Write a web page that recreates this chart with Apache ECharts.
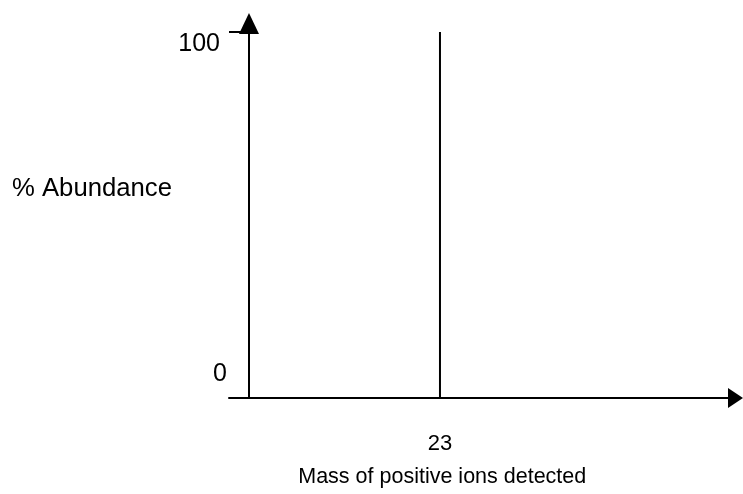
<!DOCTYPE html>
<html>
<head>
<meta charset="utf-8">
<script src="https://cdn.jsdelivr.net/npm/echarts@6/dist/echarts.min.js"></script>
<style>
html,body{margin:0;padding:0;background:#fff;}
#chart{width:743px;height:494px;}
</style>
</head>
<body>
<div id="chart"></div>
<script>
// Data
const xTickValues = [23];
const yTickValues = [0, 100];
const peakMass = [23, 23];
const peakAbundance = [0, 100];
const xAxisName = 'Mass of positive ions detected';
const yAxisName = '% Abundance';

const FONT = '"Liberation Sans", Arial, sans-serif';
const chart = echarts.init(document.getElementById('chart'), null, {renderer: 'canvas'});

chart.setOption({
  backgroundColor: '#fff',
  animation: false,
  title: {
    text: yAxisName,
    left: 12,
    top: 176,
    padding: 0,
    textStyle: {fontFamily: FONT, fontSize: 25.7, fontWeight: 'normal', color: '#000'}
  },
  grid: {left: 229, right: 7.5, top: 23.5, bottom: 96, containLabel: false, outerBoundsMode: 'none'},
  xAxis: {
    type: 'value',
    min: -2.408,
    max: 58.59,
    name: xAxisName,
    nameLocation: 'middle',
    nameGap: 68.5,
    nameMoveOverlap: false,
    nameTextStyle: {fontFamily: FONT, fontSize: 21.5, color: '#000', padding: [0, 80, 0, 0]},
    axisLine: {show: true, onZero: true, symbol: ['none', 'triangle'], symbolSize: [20, 15],
      lineStyle: {color: '#000', width: 2}},
    axisTick: {show: false},
    axisLabel: {customValues: xTickValues, margin: 35, fontFamily: FONT, fontSize: 22, color: '#000'},
    splitLine: {show: false}
  },
  yAxis: {
    type: 'value',
    min: 0,
    max: 102.3,
    axisLine: {show: true, onZero: true, symbol: ['none', 'triangle'], symbolSize: [20, 21],
      lineStyle: {color: '#000', width: 2}},
    axisTick: {show: true, customValues: [100], length: 20, lineStyle: {color: '#000', width: 2}},
    axisLabel: {
      customValues: yTickValues,
      margin: 2,
      fontFamily: FONT, fontSize: 25, color: '#000',
      formatter: function (v) { return v === 100 ? '{hi|100}' : '{lo|0}'; },
      rich: {
        hi: {fontFamily: FONT, fontSize: 25, color: '#000', padding: [24, 7, 0, 0]},
        lo: {fontFamily: FONT, fontSize: 25, color: '#000', padding: [0, 0, 48, 0]}
      }
    },
    splitLine: {show: false}
  },
  series: [{
    type: 'line',
    data: peakMass.map((m, i) => [m, peakAbundance[i]]),
    symbol: 'none',
    lineStyle: {color: '#000', width: 2},
    silent: true
  }]
});
</script>
</body>
</html>
